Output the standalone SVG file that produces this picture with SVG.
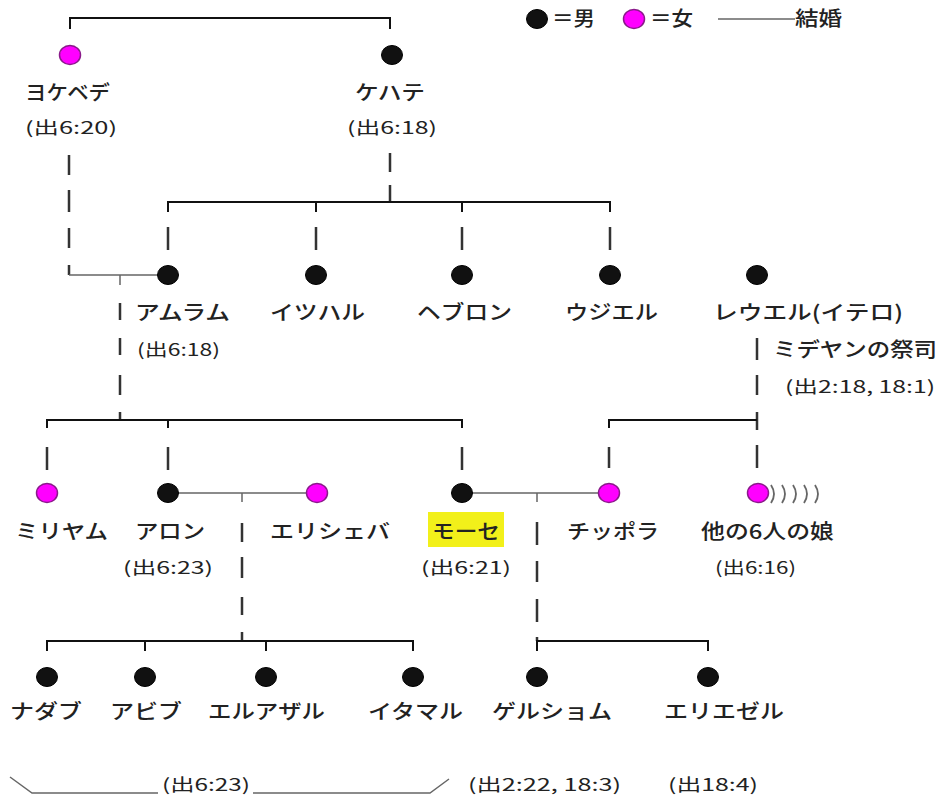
<svg xmlns="http://www.w3.org/2000/svg" width="943" height="796" viewBox="0 0 943 796">
<style>
text{font-family:"Noto Sans CJK JP","Noto Sans",sans-serif;fill:#222;font-weight:500}
.lbl{font-size:20px}
.cit{font-size:17px;font-weight:400}
.m{fill:#111;stroke:#000;stroke-width:1}
.f{fill:#f0f;stroke:#8a1a8a;stroke-width:1.5}
.br{fill:none;stroke:#111;stroke-width:2}
.ds{fill:none;stroke:#333;stroke-width:2.5}
.mar{fill:none;stroke:#666;stroke-width:1.5}
.arc{fill:none;stroke:#666;stroke-width:1.8}
</style>
<rect width="943" height="796" fill="#fff"/>

<g id="legend">
<ellipse class="m" cx="537" cy="19" rx="10.5" ry="9.5"/>
<text class="lbl" x="552" y="26" textLength="43" lengthAdjust="spacingAndGlyphs">＝男</text>
<ellipse class="f" cx="634" cy="19" rx="10.5" ry="9.5"/>
<text class="lbl" x="650" y="26" textLength="43" lengthAdjust="spacingAndGlyphs">＝女</text>
<line class="mar" x1="718" y1="19" x2="795" y2="19"/>
<text class="lbl" x="795" y="26" textLength="47" lengthAdjust="spacingAndGlyphs">結婚</text>
</g>

<g id="connectors">
<path class="br" d="M70,29 V18 H390 V29"/>
<path class="ds" d="M69,155 V175 M69,190 V212 M69,228 V248 M69,265 V275"/>
<path class="mar" d="M69,275 H160 M120,275 V285"/>
<path class="ds" d="M390,153 V172 M390,185 V202"/>
<path class="br" d="M168,212 V202 H610 V212 M316,202 V212 M462,202 V212"/>
<path class="ds" d="M168,227 V250 M316,227 V250 M462,227 V250 M610,227 V250"/>
<path class="ds" d="M120,303 V320 M120,338 V355 M120,375 V395 M120,412 V420"/>
<path class="br" d="M47,428 V420 H462 V428 M168,420 V428"/>
<path class="ds" d="M47,447 V470 M168,447 V470 M462,447 V470"/>
<path class="ds" d="M757,338 V360 M757,375 V395 M757,412 V430 M757,445 V468 M609,447 V468"/>
<path class="br" d="M609,428 V420 H757"/>
<path class="mar" d="M178,493 H308 M242,493 V502"/>
<path class="ds" d="M242,523 V542 M242,557 V578 M242,597 V615 M242,632 V641"/>
<path class="br" d="M47,651 V641 H413 V651 M145,641 V651 M266,641 V651"/>
<path class="mar" d="M472,493 H600 M537,493 V502"/>
<path class="ds" d="M537,522 V545 M537,561 V582 M537,599 V622 M537,637 V641"/>
<path class="br" d="M537,651 V641 H708 V651"/>
<path class="arc" d="M771,485 q6,9 0,18 M782,485 q6,9 0,18 M793,485 q6,9 0,18 M804,485 q6,9 0,18 M815,485 q6,9 0,18"/>
<path class="mar" d="M10,777 L32,793 H158 M253,793 H430 L449,779"/>
</g>

<g id="yochebed">
<ellipse class="f" cx="70" cy="55" rx="10.5" ry="9.5"/>
<text class="lbl" x="25" y="100" textLength="85" lengthAdjust="spacingAndGlyphs">ヨケベデ</text>
<text class="cit" x="25" y="134" textLength="92" lengthAdjust="spacingAndGlyphs">(出6:20)</text>
</g>
<g id="kehat">
<ellipse class="m" cx="392" cy="55" rx="10.5" ry="9.5"/>
<text class="lbl" x="355" y="100" textLength="70" lengthAdjust="spacingAndGlyphs">ケハテ</text>
<text class="cit" x="347" y="134" textLength="90" lengthAdjust="spacingAndGlyphs">(出6:18)</text>
</g>

<g id="amram">
<ellipse class="m" cx="168" cy="275" rx="10.5" ry="9.5"/>
<text class="lbl" x="135" y="320" textLength="95" lengthAdjust="spacingAndGlyphs">アムラム</text>
<text class="cit" x="137" y="356" textLength="83" lengthAdjust="spacingAndGlyphs">(出6:18)</text>
</g>
<g id="izhar">
<ellipse class="m" cx="316" cy="275" rx="10.5" ry="9.5"/>
<text class="lbl" x="270" y="320" textLength="95" lengthAdjust="spacingAndGlyphs">イツハル</text>
</g>
<g id="hebron">
<ellipse class="m" cx="462" cy="275" rx="10.5" ry="9.5"/>
<text class="lbl" x="417" y="320" textLength="95" lengthAdjust="spacingAndGlyphs">ヘブロン</text>
</g>
<g id="uzziel">
<ellipse class="m" cx="610" cy="275" rx="10.5" ry="9.5"/>
<text class="lbl" x="565" y="320" textLength="93" lengthAdjust="spacingAndGlyphs">ウジエル</text>
</g>
<g id="reuel">
<ellipse class="m" cx="757" cy="275" rx="10.5" ry="9.5"/>
<text class="lbl" x="713" y="320" textLength="190" lengthAdjust="spacingAndGlyphs">レウエル(イテロ)</text>
<text class="lbl" x="773" y="357" textLength="164" lengthAdjust="spacingAndGlyphs">ミデヤンの祭司</text>
<text class="cit" x="785" y="393" textLength="150" lengthAdjust="spacingAndGlyphs">(出2:18, 18:1)</text>
</g>

<g id="miriam">
<ellipse class="f" cx="47" cy="493" rx="10.5" ry="9.5"/>
<text class="lbl" x="15" y="539" textLength="93" lengthAdjust="spacingAndGlyphs">ミリヤム</text>
</g>
<g id="aaron">
<ellipse class="m" cx="168" cy="493" rx="10.5" ry="9.5"/>
<text class="lbl" x="135" y="539" textLength="70" lengthAdjust="spacingAndGlyphs">アロン</text>
<text class="cit" x="123" y="574" textLength="90" lengthAdjust="spacingAndGlyphs">(出6:23)</text>
</g>
<g id="elisheba">
<ellipse class="f" cx="317" cy="493" rx="10.5" ry="9.5"/>
<text class="lbl" x="270" y="539" textLength="120" lengthAdjust="spacingAndGlyphs">エリシェバ</text>
</g>
<g id="moses">
<ellipse class="m" cx="462" cy="493" rx="10.5" ry="9.5"/>
<rect x="428" y="512" width="76" height="35" fill="#f2f01a"/>
<text class="lbl" x="432" y="539" textLength="68" lengthAdjust="spacingAndGlyphs">モーセ</text>
<text class="cit" x="421" y="574" textLength="90" lengthAdjust="spacingAndGlyphs">(出6:21)</text>
</g>
<g id="zipporah">
<ellipse class="f" cx="609" cy="493" rx="10.5" ry="9.5"/>
<text class="lbl" x="567" y="539" textLength="92" lengthAdjust="spacingAndGlyphs">チッポラ</text>
</g>
<g id="other-daughters">
<ellipse class="f" cx="758" cy="493" rx="10.5" ry="9.5"/>
<text class="lbl" x="701" y="539" textLength="133" lengthAdjust="spacingAndGlyphs">他の6人の娘</text>
<text class="cit" x="715" y="574" textLength="81" lengthAdjust="spacingAndGlyphs">(出6:16)</text>
</g>

<g id="nadab">
<ellipse class="m" cx="47" cy="677" rx="10.5" ry="9.5"/>
<text class="lbl" x="10" y="719" textLength="72" lengthAdjust="spacingAndGlyphs">ナダブ</text>
</g>
<g id="abihu">
<ellipse class="m" cx="145" cy="677" rx="10.5" ry="9.5"/>
<text class="lbl" x="110" y="719" textLength="72" lengthAdjust="spacingAndGlyphs">アビブ</text>
</g>
<g id="eleazar">
<ellipse class="m" cx="266" cy="677" rx="10.5" ry="9.5"/>
<text class="lbl" x="208" y="719" textLength="117" lengthAdjust="spacingAndGlyphs">エルアザル</text>
</g>
<g id="ithamar">
<ellipse class="m" cx="413" cy="677" rx="10.5" ry="9.5"/>
<text class="lbl" x="368" y="719" textLength="95" lengthAdjust="spacingAndGlyphs">イタマル</text>
</g>
<g id="gershom">
<ellipse class="m" cx="537" cy="677" rx="10.5" ry="9.5"/>
<text class="lbl" x="492" y="719" textLength="120" lengthAdjust="spacingAndGlyphs">ゲルショム</text>
</g>
<g id="eliezer">
<ellipse class="m" cx="708" cy="677" rx="10.5" ry="9.5"/>
<text class="lbl" x="664" y="719" textLength="120" lengthAdjust="spacingAndGlyphs">エリエゼル</text>
</g>

<g id="bottom-refs">
<text class="cit" x="162" y="791" textLength="88" lengthAdjust="spacingAndGlyphs">(出6:23)</text>
<text class="cit" x="468" y="791" textLength="153" lengthAdjust="spacingAndGlyphs">(出2:22, 18:3)</text>
<text class="cit" x="668" y="791" textLength="90" lengthAdjust="spacingAndGlyphs">(出18:4)</text>
</g>
</svg>
